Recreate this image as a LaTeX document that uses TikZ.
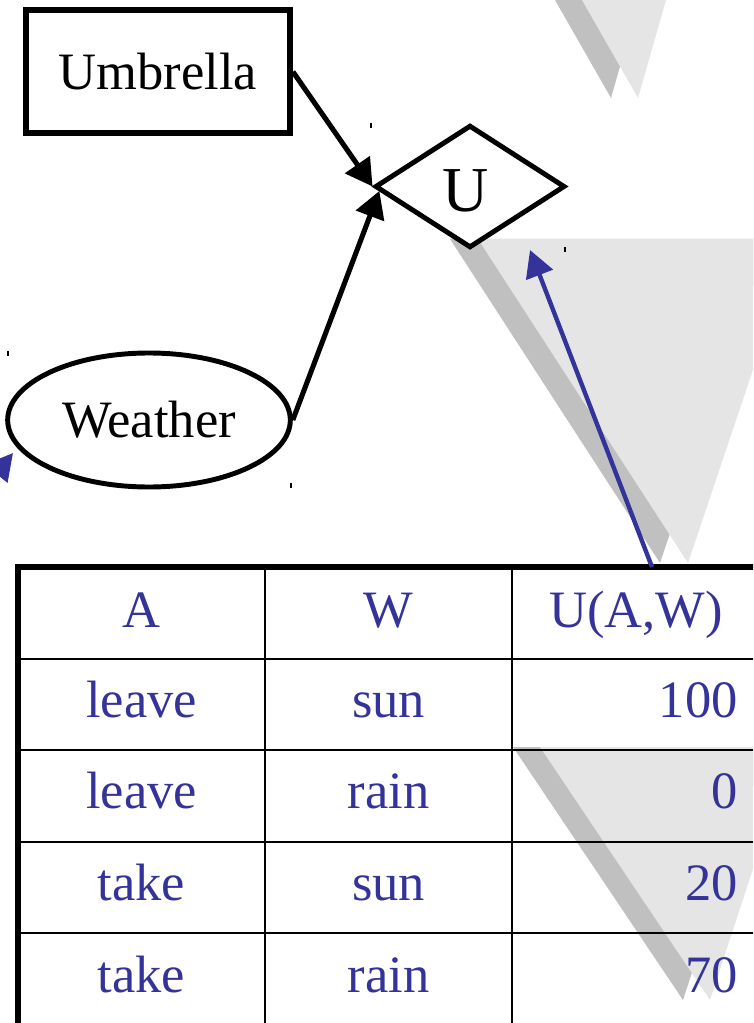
\documentclass[tikz,border=0pt]{standalone}
\usepackage{fontspec}
\setmainfont{Liberation Serif}
\usetikzlibrary{shapes.geometric,arrows.meta,calc}
\definecolor{tabblue}{RGB}{51,51,153}
\definecolor{trilight}{gray}{0.9}
\definecolor{trishadow}{gray}{0.753}
\begin{document}
\begin{tikzpicture}[x=0.75pt,y=-0.75pt,
  bigfont/.style={font=\fontsize{39.4}{47}\selectfont},
  cell/.style={bigfont,text=tabblue,inner sep=0pt},
  thinrule/.style={line width=2pt,line cap=rect},
  thickrule/.style={line width=3.9pt},
  shapeline/.style={draw,line width=3.7pt,fill=white,inner sep=0pt},
  blk/.style={line width=3.8pt,-{Triangle[length=20pt,width=22pt]}},
  bluearrow/.style={line width=3.3pt,draw=tabblue,-{Triangle[length=20pt,width=21pt]},tabblue},
  tickmark/.style={line width=0.8pt}]
\useasboundingbox (0,0) rectangle (753,1023);
\clip (0,0) rectangle (753,1023);
% grey triangles (shadow, then light)
\fill[trishadow] (549.3,-10) -- (641.9,-10) -- (611,98) -- cycle;
\fill[trilight] (576.3,-10) -- (668.9,-10) -- (638,98) -- cycle;
\fill[trishadow] (450,239) -- (769,239) -- (660,563) -- cycle;
\fill[trilight] (478,239) -- (797,239) -- (688,563) -- cycle;
\fill[trishadow] (513,747) -- (766,747) -- (683,1000) -- cycle;
\fill[trilight] (540,747) -- (793,747) -- (710,1000) -- cycle;
% table rules
\foreach \yy in {659,750,842,933,1024} \draw[thinrule] (18,\yy) -- (770,\yy);
\foreach \xx in {265,512} \draw[thinrule] (\xx,567) -- (\xx,1040);
\draw[thickrule] (18,1040) -- (18,567) -- (770,567);
% table texts
\node[cell,anchor=base] (hA) at (141.5,627) {A};
\node[cell,anchor=base] (hW) at (388.5,627) {W};
\node[cell,anchor=base] (hU) at (636,627) {U(A,W)};
\node[cell,anchor=base] (a1) at (141.5,717) {leave};
\node[cell,anchor=base] (w1) at (388.5,717) {sun};
\node[cell,anchor=base east] (u1) at (738,717) {100};
\node[cell,anchor=base] (a2) at (141.5,808) {leave};
\node[cell,anchor=base] (w2) at (388.5,808) {rain};
\node[cell,anchor=base east] (u2) at (738,808) {0};
\node[cell,anchor=base] (a3) at (141.5,900) {take};
\node[cell,anchor=base] (w3) at (388.5,900) {sun};
\node[cell,anchor=base east] (u3) at (738,900) {20};
\node[cell,anchor=base] (a4) at (141.5,992) {take};
\node[cell,anchor=base] (w4) at (388.5,992) {rain};
\node[cell,anchor=base east] (u4) at (738,992) {70};
% nodes
\node[shapeline,rectangle,line width=4.4pt,minimum width=198pt,minimum height=92pt,bigfont] (umb) at (158,71.75) {Umbrella};
\node[shapeline,diamond,minimum width=142.5pt,minimum height=92pt,
  label={[font=\fontsize{48}{56}\selectfont,inner sep=0pt,xshift=-3.4pt,yshift=-3pt]center:U}] (dia) at (470,186.5) {};
\node[shapeline,ellipse,minimum width=212pt,minimum height=100.5pt,bigfont] (wea) at (149,420) {Weather};
% black arrows
\draw[blk] (umb.east) -- (dia.west);
\draw[blk] (wea.east) -- ($(dia.west)!0.07!(dia.south)$);
% blue arrows
\coordinate (btail) at (652,567);
\coordinate (bhead) at (530,250);
\draw[bluearrow] (btail) -- (bhead);
\coordinate (wtail) at (-25,500);
\coordinate (whead) at (13,453);
\draw[bluearrow] (wtail) -- (whead);
% small handle marks
\draw[tickmark] (371,123) -- (371,128);
\draw[tickmark] (565,247) -- (565,252);
\draw[tickmark] (8,351) -- (8,356);
\draw[tickmark] (291,483) -- (291,488);
\end{tikzpicture}
\end{document}
